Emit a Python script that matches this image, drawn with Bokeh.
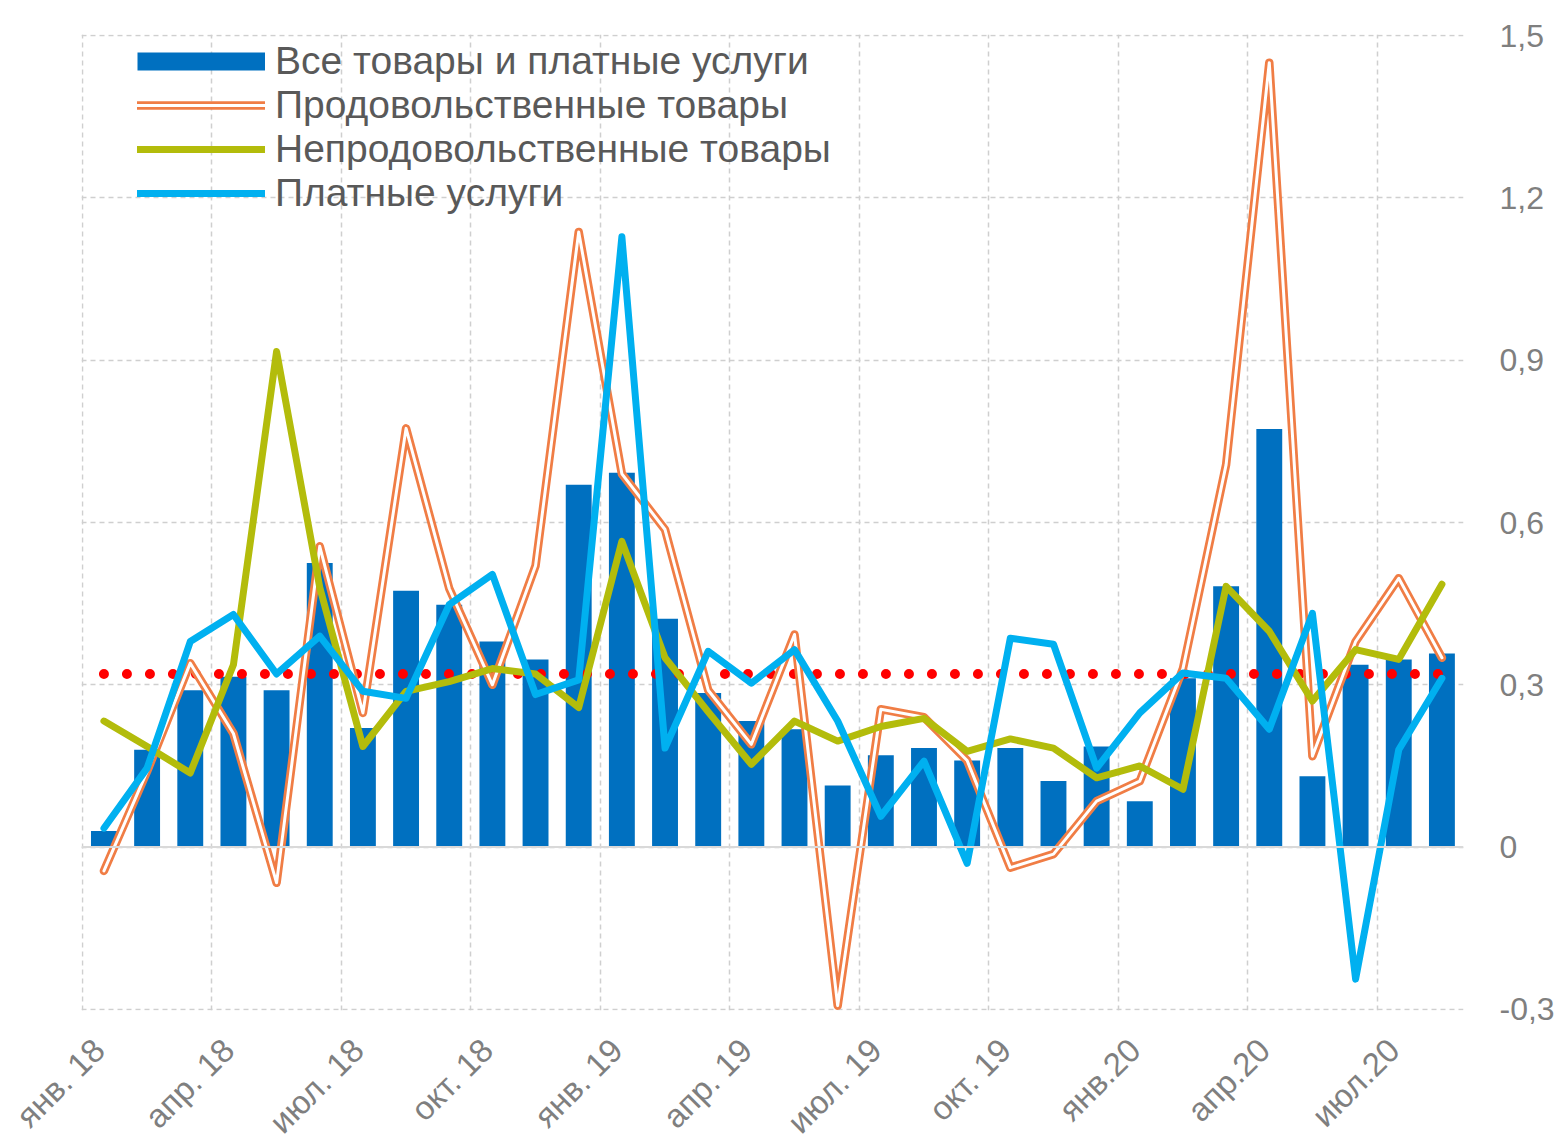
from math import pi
from bokeh.plotting import figure
from bokeh.models import (ColumnDataSource, FixedTicker, CustomJSTickFormatter, Legend,
                          LegendItem, Span)
from bokeh.embed import file_html
from bokeh.resources import INLINE

# ---- data ----
months = ["янв. 18", "фев. 18", "мар. 18", "апр. 18", "май 18", "июн. 18", "июл. 18", "авг. 18",
          "сен. 18", "окт. 18", "ноя. 18", "дек. 18", "янв. 19", "фев. 19", "мар. 19", "апр. 19",
          "май 19", "июн. 19", "июл. 19", "авг. 19", "сен. 19", "окт. 19", "ноя. 19", "дек. 19",
          "янв.20", "фев.20", "мар.20", "апр.20", "май 20", "июн.20", "июл.20", "авг.20"]
all_goods = [0.03, 0.18, 0.29, 0.315, 0.29, 0.525, 0.22, 0.474, 0.448, 0.38, 0.347, 0.67,
             0.692, 0.422, 0.285, 0.233, 0.218, 0.114, 0.17, 0.183, 0.16, 0.183, 0.122, 0.186,
             0.085, 0.312, 0.482, 0.773, 0.131, 0.337, 0.347, 0.358]
food = [-0.044, 0.14, 0.34, 0.21, -0.066, 0.556, 0.248, 0.774, 0.478, 0.30, 0.52, 1.137,
        0.69, 0.587, 0.29, 0.19, 0.393, -0.293, 0.255, 0.24, 0.16, -0.038, -0.013, 0.085,
        0.122, 0.33, 0.707, 1.45, 0.168, 0.38, 0.497, 0.35]
nonfood = [0.233, 0.186, 0.137, 0.337, 0.916, 0.48, 0.186, 0.288, 0.306, 0.33, 0.32, 0.258,
           0.565, 0.35, 0.25, 0.153, 0.233, 0.196, 0.223, 0.238, 0.177, 0.2, 0.183, 0.128,
           0.15, 0.107, 0.482, 0.399, 0.27, 0.365, 0.347, 0.486]
services = [0.035, 0.146, 0.38, 0.43, 0.32, 0.39, 0.288, 0.275, 0.448, 0.504, 0.282, 0.309,
            1.128, 0.183, 0.362, 0.303, 0.365, 0.233, 0.057, 0.159, -0.03, 0.386, 0.375, 0.146,
            0.248, 0.322, 0.312, 0.218, 0.432, -0.244, 0.18, 0.312]
target = 0.32
tick_labels = ["янв. 18", "апр. 18", "июл. 18", "окт. 18", "янв. 19", "апр. 19",
               "июл. 19", "окт. 19", "янв.20", "апр.20", "июл.20"]
y_ticks = [-0.3, 0.0, 0.3, 0.6, 0.9, 1.2, 1.5]
series_names = ["Все товары и платные услуги", "Продовольственные товары",
                "Непродовольственные товары", "Платные услуги"]

idx = list(range(len(months)))
src = ColumnDataSource(dict(x=idx, all=all_goods, food=food, nonfood=nonfood, services=services,
                            target=[target] * len(idx)))

p = figure(frame_width=1382, frame_height=976, min_border_left=81, min_border_top=34,
           min_border_right=10, min_border_bottom=10,
           x_range=(-0.52, len(idx) - 0.5), y_range=(-0.302, 1.502),
           y_axis_location="right", output_backend="svg", toolbar_location=None,
           background_fill_color="white", border_fill_color="white")
p.outline_line_color = None

# grids
grid_ticks = [-0.5 + 3 * k for k in range(len(tick_labels))]
label_ticks = [g + 0.38 for g in grid_ticks]
p.xgrid.ticker = FixedTicker(ticks=grid_ticks)
p.ygrid.ticker = FixedTicker(ticks=y_ticks)
for g in (p.xgrid[0], p.ygrid[0]):
    g.grid_line_color = "#cfcfcf"
    g.grid_line_width = 1.5
    g.grid_line_dash = "5 4"

p.add_layout(Span(location=0, dimension="width", line_color="#d9d9d9", line_width=2))

bars = p.vbar(x="x", top="all", width=0.6, source=src, fill_color="#0070C0", line_color=None)
bar_leg = p.line(x=[0], y=[float("nan")], line_color="#0070C0", line_width=18, line_cap="butt")

dots = p.line(x="x", y="target", source=src, line_color="#FF0000", line_width=10,
              line_dash="0 23", line_cap="round")

food_outer = p.line(x="x", y="food", source=src, line_color="#F07D45", line_width=8.5,
                    line_join="round", line_cap="round")
food_inner = p.line(x="x", y="food", source=src, line_color="white", line_width=3,
                    line_join="round", line_cap="round")
nf = p.line(x="x", y="nonfood", source=src, line_color="#B3BC0B", line_width=7,
            line_join="round", line_cap="round")
sv = p.line(x="x", y="services", source=src, line_color="#00B0F0", line_width=7,
            line_join="round", line_cap="round")

# axes
xa = p.xaxis[0]
xa.ticker = FixedTicker(ticks=label_ticks)
xa.major_label_overrides = {t: l for t, l in zip(label_ticks, tick_labels)}
xa.major_label_orientation = pi / 4
xa.axis_line_color = None
xa.major_tick_line_color = None
xa.minor_tick_line_color = None
xa.major_label_text_font = "Liberation Sans"
xa.major_label_text_font_size = "33px"
xa.major_label_text_color = "#7f7f7f"
xa.major_label_standoff = 28

ya = p.yaxis[0]
ya.ticker = FixedTicker(ticks=y_ticks)
ya.formatter = CustomJSTickFormatter(
    code="return Math.abs(tick) < 1e-9 ? '0' : tick.toFixed(1).replace('.', ',');")
ya.axis_line_color = None
ya.major_tick_line_color = None
ya.minor_tick_line_color = None
ya.major_label_text_font = "Liberation Sans"
ya.major_label_text_font_size = "32px"
ya.major_label_text_color = "#7f7f7f"
ya.major_label_standoff = 30

legend = Legend(items=[
    LegendItem(label=series_names[0], renderers=[bar_leg]),
    LegendItem(label=series_names[1], renderers=[food_outer, food_inner]),
    LegendItem(label=series_names[2], renderers=[nf]),
    LegendItem(label=series_names[3], renderers=[sv]),
], location=(56, 795))
legend.background_fill_alpha = 0
legend.border_line_color = None
legend.padding = 5
legend.margin = 0
legend.spacing = -3
legend.glyph_width = 128
legend.glyph_height = 40
legend.label_height = 42
legend.label_standoff = 10
legend.label_text_font = "Liberation Sans"
legend.label_text_font_size = "39px"
legend.label_text_color = "#595959"
p.add_layout(legend)

open("out.html", "w").write(file_html(p, INLINE))
